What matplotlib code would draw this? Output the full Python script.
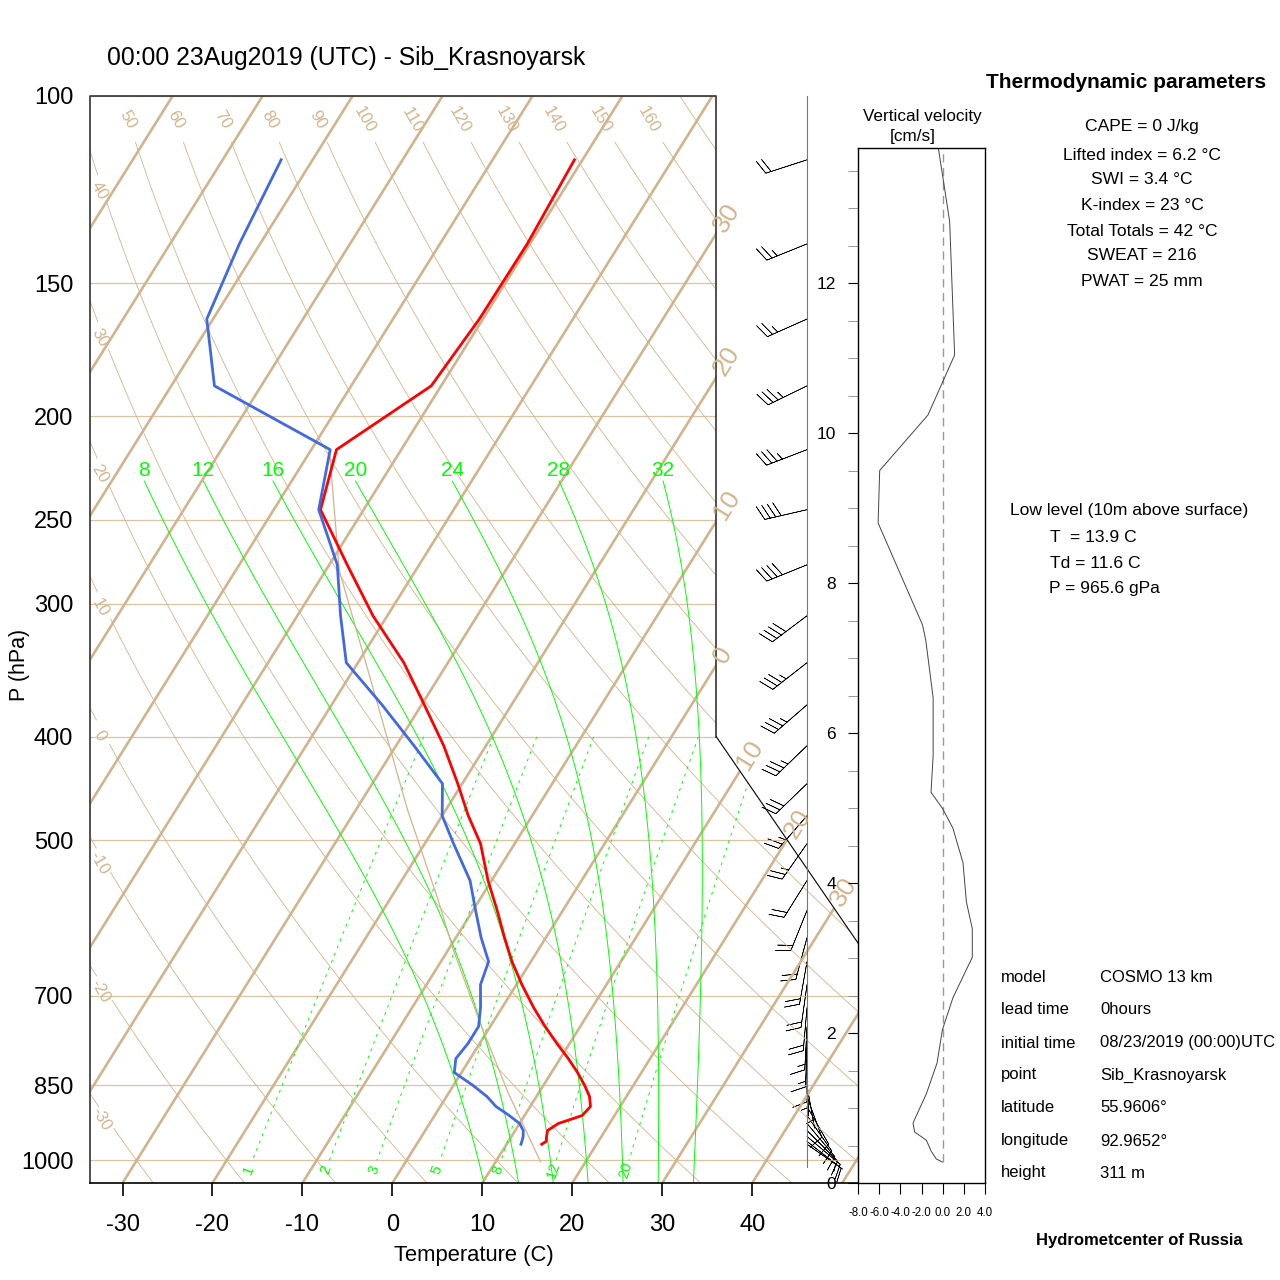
import numpy as np
import matplotlib
matplotlib.use("Agg")
import matplotlib.pyplot as plt
from matplotlib.patches import Polygon

plt.rcParams['font.family'] = ['Liberation Sans', 'DejaVu Sans']

# sondeo del modelo (niveles)
pres = [114.8, 137.7, 162.0, 187.2, 214.9, 244.7, 275.7, 307.8, 340.7, 373.2, 407.7,
        442.6, 474.4, 503.9, 545.8, 582.3, 617.5, 650.4, 683.6, 718.4, 748.5, 776.6,
        802.2, 826.8, 850.4, 870.9, 889.9, 907.4, 923.2, 937.3, 949.5, 959.7, 965.6]
temp = [-50.9, -50.3, -50.4, -51.1, -57.2, -54.8, -48.0, -41.6, -34.9, -29.7, -24.7,
        -20.5, -17.1, -13.8, -10.4, -7.3, -4.6, -2.1, 0.6, 3.5, 6.1, 8.6,
        10.9, 12.9, 14.6, 15.9, 16.7, 16.4, 14.3, 13.6, 13.9, 14.2, 13.9]
dewp = [-83.5, -82.3, -80.7, -75.2, -57.9, -55.0, -49.1, -45.2, -41.3, -34.4, -28.0,
        -22.2, -20.0, -16.8, -12.4, -9.7, -7.2, -4.7, -4.0, -2.4, -1.3, -1.3,
        -1.6, -0.8, 2.2, 4.5, 6.2, 8.3, 10.0, 10.9, 11.3, 11.5, 11.6]
wdir = [252, 248, 246, 244, 249, 257, 248, 233, 232, 229, 226,
        226, 221, 215, 212, 202, 195, 190, 188, 185, 183, 182,
        180, 178, 170, 160, 150, 145, 140, 135, 130, 128, 125]
wspd = [20, 25, 25, 35, 35, 40, 40, 40, 35, 35, 35,
        30, 25, 25, 20, 20, 20, 20, 20, 20, 15, 15,
        10, 5, 5, 10, 10, 10, 10, 10, 10, 10, 5]

# curva de la particula
parcel_p = [216, 279, 369, 468, 568, 632, 741, 864, 1003]
parcel_t = [-57.8, -48.5, -35.4, -24.3, -14.7, -9.6, -1.5, 6.6, 15.0]

# velocidad vertical
vv_h = [0.28, 0.32, 0.42, 0.57, 0.68, 0.80, 1.19, 1.60, 2.04, 2.47, 3.01, 3.39, 3.75, 4.27,
        4.73, 4.99, 5.21, 5.70, 6.47, 7.24, 7.44, 8.80, 9.50, 10.24, 11.04, 12.82, 13.83]
vv_w = [-0.03, -0.6, -1.07, -1.54, -2.65, -2.8, -1.54, -0.53, -0.03, 0.97, 2.8, 2.8, 2.24, 1.92,
        0.97, 0.0, -1.1, -0.9, -0.9, -1.6, -1.9, -6.1, -5.95, -1.39, 1.13, 0.66, -0.44]

p_ticks = [100, 150, 200, 250, 300, 400, 500, 700, 850, 1000]
t_ticks = [-30, -20, -10, 0, 10, 20, 30, 40]
theta_list = list(range(-30, 171, 10))
thetaw_list = [8, 12, 16, 20, 24, 28, 32]
mixr_list = [1, 2, 3, 5, 8, 12, 20]
iso_list = list(range(-110, 51, 10))

params = ["CAPE = 0 J/kg", "Lifted index = 6.2 °C", "SWI = 3.4 °C", "K-index = 23 °C",
          "Total Totals = 42 °C", "SWEAT = 216", "PWAT = 25 mm"]
info_keys = ["model", "lead time", "initial time", "point", "latitude", "longitude", "height"]
info_vals = ["COSMO 13 km", "0hours", "08/23/2019 (00:00)UTC", "Sib_Krasnoyarsk",
             "55.9606°", "92.9652°", "311 m"]

TAN = '#D2B48C'
GREEN = '#00FF00'


def sk_y(p):
    return 132.182 - 44.061 * np.log10(p)


def sk_x(t, p):
    return 0.54 * np.asarray(t) + 0.90692 * sk_y(p)


def esat(tc):
    return 6.112 * np.exp(17.67 * tc / (tc + 243.5))


def dtdp(tk, p):
    es = esat(tk - 273.15)
    rs = 0.622 * es / (p - es)
    return (287.04 * tk + 2.501e6 * rs) / p / (1005.7 + 2.501e6 ** 2 * rs * 0.622 / (287.04 * tk * tk))


def moist_path(t0, p_top):
    out = []
    for p_end in (p_top, 1050.0):
        step = -1.0 if p_end < 1000 else 1.0
        ps = np.arange(1000.0, p_end + step * 0.5, step)
        ts = [t0 + 273.15]
        for i in range(1, len(ps)):
            k1 = dtdp(ts[-1], ps[i - 1])
            k2 = dtdp(ts[-1] + k1 * step, ps[i])
            ts.append(ts[-1] + 0.5 * (k1 + k2) * step)
        out.append((ps, np.array(ts) - 273.15))
    ps = np.concatenate([out[1][0][::-1], out[0][0][1:]])
    ts = np.concatenate([out[1][1][::-1], out[0][1][1:]])
    return ps, ts


def fx(px):
    return px / 1280


def fy(py):
    return 1 - py / 1280


fig = plt.figure(figsize=(12.8, 12.8), dpi=100)
ax = fig.add_axes([fx(90), fy(1183), (858 - 90) / 1280, (1183 - 96) / 1280])
ymin, ymax = sk_y(1050), sk_y(100)
ax.set_xlim(-19, 27.1)
ax.set_ylim(ymin, ymax)
for s in ax.spines.values():
    s.set_visible(False)

verts = [(-19, ymin), (27.1, ymin), (27.1, 9.0), (18.6, sk_y(400)), (18.6, ymax), (-19, ymax)]
clip = Polygon(verts, closed=True, facecolor='none', edgecolor='none')
ax.add_patch(clip)


def clipped(lines):
    for ln in lines:
        ln.set_clip_path(clip)


def angle_of(x0, y0, x1, y1):
    a = ax.transData.transform([(x0, y0), (x1, y1)])
    return np.degrees(np.arctan2(a[1, 1] - a[0, 1], a[1, 0] - a[0, 0]))


# isobaras
for p in p_ticks:
    clipped(ax.plot([-19, 27.1], [sk_y(p), sk_y(p)], color=TAN, lw=0.9, alpha=0.8))

# isotermas
for t in iso_list:
    clipped(ax.plot(sk_x([t, t], [1050, 100]), [ymin, ymax], color=TAN, lw=1.9))
k = 8.5 / (sk_y(400) - 9.0)
for t in range(-30, 31, 10):
    ye = (18.6 - 0.54 * t) / 0.90692
    if ye < sk_y(400):
        ye = (18.6 + sk_y(400) * k - 0.54 * t) / (0.90692 + k)
    yl = ye + 0.15
    xl = 0.54 * t + 0.90692 * yl
    rot = angle_of(xl, yl, xl + 0.90692, yl + 1)
    ax.text(xl, yl, str(abs(t)), color=TAN, fontsize=19, rotation=rot, rotation_mode='anchor',
            ha='left', va='center', clip_on=False)

# adiabaticas secas
pp = np.logspace(np.log10(100), np.log10(1050), 400)
for th in theta_list:
    tt = (th + 273.15) * (pp / 1000.0) ** 0.2857 - 273.15
    xx = sk_x(tt, pp)
    yy = sk_y(pp)
    keep = np.ones(len(pp), bool)
    if th >= 50 and th <= 160:
        pl = 105.3
        tl = (th + 273.15) * (pl / 1000.0) ** 0.2857 - 273.15
        xl, yl = float(sk_x(tl, pl)), float(sk_y(pl))
        keep = pp >= 110
    elif th <= 40:
        i = np.argmax(xx >= -18.45)
        xl, yl = xx[i], yy[i] - 0.42
        disp = ax.transData.transform(np.column_stack([xx, yy]))
        dl = ax.transData.transform([(xl, yl)])[0]
        keep = np.hypot(disp[:, 0] - dl[0], disp[:, 1] - dl[1]) > 13
    else:
        xl = None
    seg = np.where(keep, yy, np.nan)
    clipped(ax.plot(xx, seg, color=TAN, lw=0.6))
    if xl is not None:
        ax.text(xl, yl, str(th), color=TAN, fontsize=12, rotation=-60, rotation_mode='anchor',
                ha='center', va='center')

# adiabaticas humedas
for tw in thetaw_list:
    ps, ts = moist_path(tw, 230)
    clipped(ax.plot(sk_x(ts, ps), sk_y(ps), color=GREEN, lw=0.7))
    ax.text(float(sk_x(ts[-1], ps[-1])), sk_y(225), str(tw), color=GREEN, fontsize=15,
            ha='center', va='center')

# razon de mezcla
pm = np.linspace(400, 1000, 60)
for w in mixr_list:
    lg = np.log(w * pm / (622.0 + w) / 6.112)
    td = 243.5 * lg / (17.67 - lg)
    clipped(ax.plot(sk_x(td, pm), sk_y(pm), color=GREEN, lw=0.7, ls=(0, (3, 5))))
    lgl = np.log(w * 1020 / (622.0 + w) / 6.112)
    tdl = 243.5 * lgl / (17.67 - lgl)
    rot = angle_of(float(sk_x(td[-1], 1000)), sk_y(1000), float(sk_x(td[-8], pm[-8])), sk_y(pm[-8]))
    ax.text(float(sk_x(tdl, 1020)), sk_y(1020), str(w), color=GREEN, fontsize=10.5,
            rotation=rot, rotation_mode='anchor', ha='center', va='center')

# curva de la particula
clipped(ax.plot(sk_x(parcel_t, parcel_p), sk_y(np.array(parcel_p)), color=TAN, lw=0.9))

# temperatura y punto de rocio
ax.plot(sk_x(temp, pres), sk_y(np.array(pres)), color='#FF0000', lw=2.0, zorder=5)
ax.plot(sk_x(dewp, pres), sk_y(np.array(pres)), color='#4169E1', lw=2.0, zorder=5)

# marco
ax.plot([-19, -19, 18.6, 18.6], [ymin, ymax, ymax, sk_y(400)], color='#333333', lw=1.2, clip_on=False)
ax.plot([18.6, 27.1], [sk_y(400), 9.0], color='black', lw=0.8, clip_on=False)
ax.plot([-19, 27.1], [ymin, ymin], color='black', lw=1.2, clip_on=False)

# viento
xb = 24.04
ax.plot([xb, xb], [sk_y(1015), ymax], color='#777777', lw=0.8, clip_on=False)
rad = np.radians(wdir)
u = -np.array(wspd) * np.sin(rad)
v = -np.array(wspd) * np.cos(rad)
ax.barbs(np.full(len(pres), xb), sk_y(np.array(pres)), u, v, length=7.9, lw=0.45,
         color='black', clip_on=False, sizes=dict(height=0.33, spacing=0.13, emptybarb=0.0))

# ejes
ax.set_yticks([sk_y(p) for p in p_ticks])
ax.set_yticklabels([str(p) for p in p_ticks], fontsize=17)
ax.tick_params(axis='y', length=0, pad=12)
ax.set_xticks([float(sk_x(t, 1050)) for t in t_ticks])
ax.set_xticklabels([str(t) for t in t_ticks], fontsize=17)
ax.tick_params(axis='x', length=9, width=1.2, direction='out', pad=13)
fig.text(fx(20), fy(665), "P (hPa)", rotation=90, fontsize=15.5, ha='center', va='center')
fig.text(fx(474), fy(1255), "Temperature (C)", fontsize=15.8, ha='center', va='center')
fig.text(fx(107), fy(58), "00:00 23Aug2019 (UTC) - Sib_Krasnoyarsk", fontsize=17.8,
         ha='left', va='center')

# panel de velocidad vertical
ax2 = fig.add_axes([fx(858), fy(1183), 127 / 1280, (1183 - 148) / 1280])
ax2.plot([0, 0], [vv_h[0], 13.8], color='#999999', lw=1.0, ls=(0, (6, 4)))
ax2.plot(vv_w, vv_h, color='#444444', lw=0.7)
ax2.set_xlim(-8, 4)
ax2.set_ylim(0, 13.8)
ax2.set_xticks(np.arange(-8, 5, 2))
ax2.set_xticklabels(["%.1f" % t for t in np.arange(-8, 5, 2)], fontsize=8.3)
ax2.set_yticks(np.arange(0, 13, 2))
ax2.set_yticklabels([str(t) for t in range(0, 13, 2)], fontsize=12.5)
ax2.set_yticks(np.arange(0, 13.8, 0.5), minor=True)
ax2.tick_params(axis='y', which='major', length=7, pad=9)
ax2.tick_params(axis='y', which='minor', length=7, color='#888888')
ax2.tick_params(axis='x', length=8, pad=9)
for s in ax2.spines.values():
    s.set_linewidth(1.0)
fig.text(fx(922), fy(117), "Vertical velocity", fontsize=12.3, ha='center', va='center')
fig.text(fx(913), fy(136), "[cm/s]", fontsize=12.3, ha='center', va='center')

# textos de la derecha
fig.text(fx(1126), fy(82), "Thermodynamic parameters", fontsize=15, fontweight='bold',
         ha='center', va='center')
for i, s in enumerate(params):
    fig.text(fx(1142), fy([127, 155, 180, 206, 231, 256, 282][i]), s, fontsize=12.6,
             ha='center', va='center')
fig.text(fx(1010), fy(511), "Low level (10m above surface)", fontsize=12.6, ha='left', va='center')
fig.text(fx(1050), fy(538), "T  = 13.9 C", fontsize=12.6, ha='left', va='center')
fig.text(fx(1050), fy(563), "Td = 11.6 C", fontsize=12.6, ha='left', va='center')
fig.text(fx(1049), fy(588), "P = 965.6 gPa", fontsize=12.6, ha='left', va='center')
for i in range(len(info_keys)):
    yy = fy([977, 1010, 1043, 1075, 1108, 1141, 1173][i])
    fig.text(fx(1001), yy, info_keys[i], fontsize=12, ha='left', va='center')
    fig.text(fx(1100), yy, info_vals[i], fontsize=12, ha='left', va='center')
fig.text(fx(1139), fy(1240), "Hydrometcenter of Russia", fontsize=12, fontweight='bold',
         ha='center', va='center')

fig.savefig("out.png", dpi=100)
